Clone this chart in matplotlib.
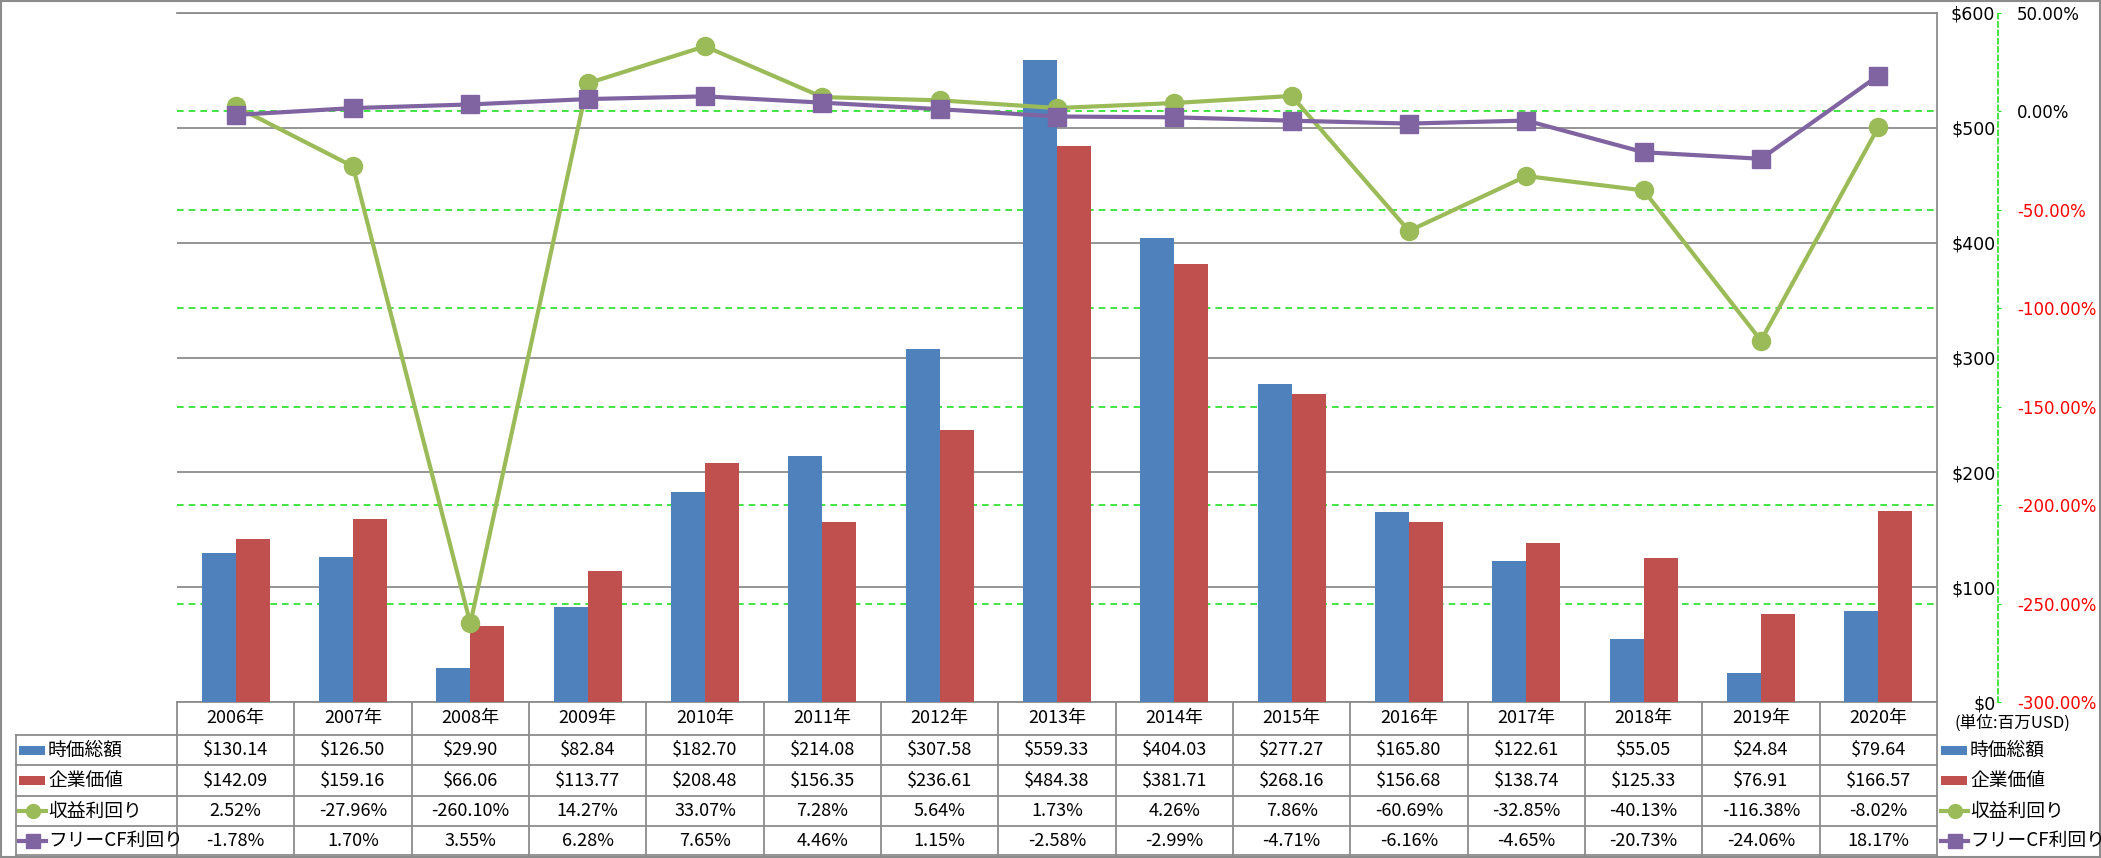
import matplotlib
matplotlib.use("Agg")
import matplotlib.pyplot as plt
from matplotlib.patches import Rectangle
import numpy as np

# データ（単位: 百万USD / %）
years = ["2006年", "2007年", "2008年", "2009年", "2010年", "2011年", "2012年", "2013年",
         "2014年", "2015年", "2016年", "2017年", "2018年", "2019年", "2020年"]
jika_sougaku = [130.14, 126.50, 29.90, 82.84, 182.70, 214.08, 307.58, 559.33,
                404.03, 277.27, 165.80, 122.61, 55.05, 24.84, 79.64]
kigyou_kachi = [142.09, 159.16, 66.06, 113.77, 208.48, 156.35, 236.61, 484.38,
                381.71, 268.16, 156.68, 138.74, 125.33, 76.91, 166.57]
shueki_rimawari = [2.52, -27.96, -260.10, 14.27, 33.07, 7.28, 5.64, 1.73,
                   4.26, 7.86, -60.69, -32.85, -40.13, -116.38, -8.02]
free_cf_rimawari = [-1.78, 1.70, 3.55, 6.28, 7.65, 4.46, 1.15, -2.58,
                    -2.99, -4.71, -6.16, -4.65, -20.73, -24.06, 18.17]

usd_ticks = [0, 100, 200, 300, 400, 500, 600]
pct_ticks = [-300, -250, -200, -150, -100, -50, 0, 50]

BLUE = "#4F81BD"
RED = "#C0504D"
GREEN = "#9BBB59"
PURPLE = "#8064A2"
LIME = "#22E022"
GRAY = "#8C8C8C"
JP = ["Noto Sans CJK JP", "DejaVu Sans"]

W, H = 2101, 858
PL, PR, PT, PB = 177, 1937, 13, 702

fig = plt.figure(figsize=(W / 100, H / 100), dpi=100)
ax = fig.add_axes([PL / W, 1 - PB / H, (PR - PL) / W, (PB - PT) / H])

x = np.arange(len(years))
bw = 0.29
ax.bar(x - bw / 2, jika_sougaku, bw, color=BLUE, zorder=3)
ax.bar(x + bw / 2, kigyou_kachi, bw, color=RED, zorder=3)
ax.set_xlim(-0.5, len(years) - 0.5)
ax.set_ylim(0, 600)
ax.set_xticks([])
ax.grid(axis="y", color=GRAY, lw=1.3, zorder=0)
ax.set_axisbelow(True)
ax.spines["left"].set_visible(False)
for s in ["top", "right", "bottom"]:
    ax.spines[s].set_color(GRAY)
    ax.spines[s].set_linewidth(1.3)

# 第2軸の目盛線（棒の下に描く）
def pct_to_usd(p):
    return (p - pct_ticks[0]) / (pct_ticks[-1] - pct_ticks[0]) * 600

for p in pct_ticks[1:-1]:
    ax.axhline(pct_to_usd(p), color=LIME, lw=1.2, ls=(0, (4, 3)), zorder=1)

ax2 = ax.twinx()
ax2.plot(x, shueki_rimawari, color=GREEN, lw=3, marker="o", ms=13,
         solid_joinstyle="round", zorder=4)
ax2.plot(x, free_cf_rimawari, color=PURPLE, lw=3, marker="s", ms=12.5,
         solid_joinstyle="round", zorder=5)
ax2.set_ylim(-300, 50)
ax2.set_yticks(pct_ticks)
ax2.set_yticklabels([f"{v:.2f}%" for v in pct_ticks])
for s in ["left", "top", "bottom"]:
    ax2.spines[s].set_visible(False)
ax2.spines["right"].set_position(("outward", 44))
ax2.spines["right"].set_color(LIME)
ax2.spines["right"].set_linestyle((0, (3, 2)))
ax2.spines["right"].set_linewidth(1.2)
ax2.tick_params(axis="y", direction="out", length=2.5, color=LIME, pad=11, labelsize=12)
for lbl, v in zip(ax2.get_yticklabels(), pct_ticks):
    lbl.set_color("red" if v < 0 else "black")

# 主軸（$）の目盛ラベルも右側へ（twinx の後で設定）
ax.yaxis.tick_right()
ax.set_yticks(usd_ticks)
ax.set_yticklabels([f"${v}" for v in usd_ticks])
ax.tick_params(axis="y", left=False, labelleft=False, right=False, labelright=True,
               length=0, pad=42, labelsize=12.5)
for lbl in ax.get_yticklabels():
    lbl.set_horizontalalignment("right")

# データテーブルと凡例（ピクセル座標）
ov = fig.add_axes([0, 0, 1, 1])
ov.set_xlim(0, W)
ov.set_ylim(H, 0)
ov.axis("off")

ov.add_patch(Rectangle((1, 1), W - 2.5, H - 2.5, fill=False, ec=GRAY, lw=1.5))

cw = (PR - PL) / len(years)
rows_y = [702, 735, 765, 796, 826, 855]
lab_left = 16

for k in range(len(years) + 1):
    ov.plot([PL + k * cw] * 2, [rows_y[0], rows_y[-1]], color=GRAY, lw=1.3)
ov.plot([lab_left, lab_left], [rows_y[1], rows_y[-1]], color=GRAY, lw=1.3)
for y in rows_y[1:]:
    ov.plot([lab_left, PR], [y, y], color=GRAY, lw=1.3)

def cy(r):
    return (rows_y[r] + rows_y[r + 1]) / 2

for i, yr in enumerate(years):
    cx = PL + (i + 0.5) * cw
    ov.text(cx, cy(0), yr, ha="center", va="center", fontsize=13, family=JP)
    ov.text(cx, cy(1), f"${jika_sougaku[i]:.2f}", ha="center", va="center", fontsize=13, family=JP)
    ov.text(cx, cy(2), f"${kigyou_kachi[i]:.2f}", ha="center", va="center", fontsize=13, family=JP)
    ov.text(cx, cy(3), f"{shueki_rimawari[i]:.2f}%", ha="center", va="center", fontsize=13, family=JP)
    ov.text(cx, cy(4), f"{free_cf_rimawari[i]:.2f}%", ha="center", va="center", fontsize=13, family=JP)

series_names = ["時価総額", "企業価値", "収益利回り", "フリーCF利回り"]

def legend_key(x0, r, kind):
    y = cy(r + 1)
    if kind < 2:
        ov.add_patch(Rectangle((x0, y - 4.5), 26, 9, color=[BLUE, RED][kind], lw=0))
    else:
        c = [GREEN, PURPLE][kind - 2]
        m = ["o", "s"][kind - 2]
        ov.plot([x0, x0 + 27], [y, y], color=c, lw=3)
        ov.plot([x0 + 13.5], [y], marker=m, color=c, ms=10)

for r, name in enumerate(series_names):
    legend_key(19, r, r)
    ov.text(48, cy(r + 1), name, ha="left", va="center", fontsize=13.5, family=JP)
    legend_key(1941, r, r)
    ov.text(1970, cy(r + 1), name, ha="left", va="center", fontsize=13.5, family=JP)

ov.text(2012, 723, "(単位:百万USD)", ha="center", va="center", fontsize=12, family=JP)

fig.savefig("out.png", dpi=100)
